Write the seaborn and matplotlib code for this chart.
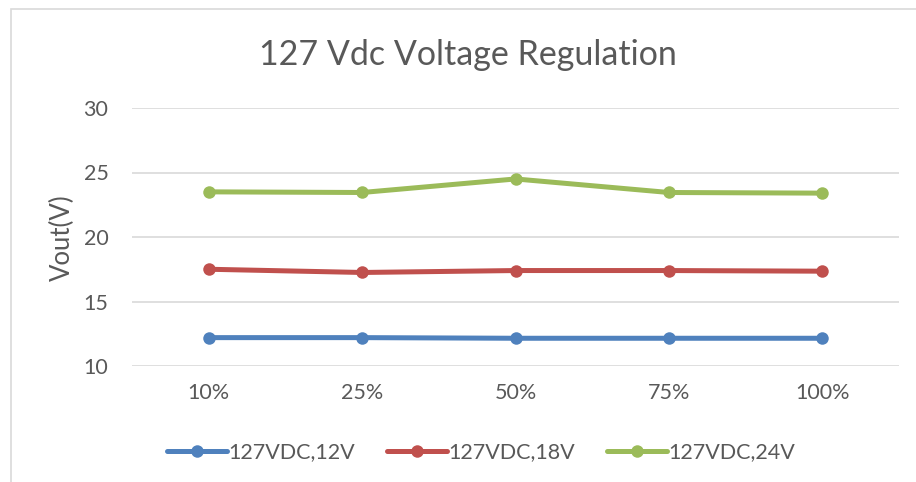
import matplotlib
matplotlib.use("Agg")
import matplotlib.pyplot as plt
from matplotlib.patches import Rectangle
import seaborn as sns
import pandas as pd

# region Data
loads = ["10%", "25%", "50%", "75%", "100%"]
vout_12v = [12.2, 12.2, 12.15, 12.15, 12.15]
vout_18v = [17.5, 17.25, 17.4, 17.4, 17.35]
vout_24v = [23.5, 23.45, 24.5, 23.45, 23.4]
series_names = ["127VDC,12V", "127VDC,18V", "127VDC,24V"]
series_colors = ["#4f81bd", "#c0504d", "#9bbb59"]
# endregion

df = pd.concat([
    pd.DataFrame({"load": loads, "vout": vals, "series": name})
    for name, vals in zip(series_names, [vout_12v, vout_18v, vout_24v])
])

sns.set_style("white")
plt.rcParams["font.family"] = ["Lato", "DejaVu Sans"]
text_color = "#595959"

fig = plt.figure(figsize=(9.16, 4.82), dpi=100)
ax = fig.add_axes([132 / 916, 1 - 366 / 482, (899 - 132) / 916, (366 - 108) / 482])

sns.lineplot(data=df, x="load", y="vout", hue="series", palette=series_colors,
             hue_order=series_names, sort=False, marker="o", markersize=9,
             markeredgewidth=0, linewidth=3.6, ax=ax)

ax.set_ylim(10, 30)
ax.set_yticks([10, 15, 20, 25, 30])
ax.set_xlim(-0.5, len(loads) - 0.5)
ax.grid(axis="y", color="#d9d9d9", linewidth=1.2)
ax.set_axisbelow(True)
for s in ax.spines.values():
    s.set_visible(False)
ax.tick_params(axis="both", length=0, labelsize=15.5, labelcolor=text_color)
ax.tick_params(axis="x", pad=12)
ax.tick_params(axis="y", pad=17)
ax.set_xlabel("")
ax.set_ylabel("")

fig.text(62 / 916, 1 - 238 / 482, "Vout(V)", rotation=90, ha="center", va="center",
         fontsize=18.5, color=text_color)
fig.text(0.511, 1 - 55 / 482, "127 Vdc Voltage Regulation", ha="center", va="center",
         fontsize=24.5, color=text_color)

handles, labels = ax.get_legend_handles_labels()
ax.legend(handles, labels, loc="center", bbox_to_anchor=(0.455, -0.335), ncol=3,
          frameon=False, fontsize=15.5, handlelength=2.8, handletextpad=0.05,
          columnspacing=1.5, labelcolor=text_color)

# outer chart border (Excel chart area)
fig.patches.append(Rectangle((11 / 916, -0.1), 2, 1.1 - 9 / 482, transform=fig.transFigure,
                             fill=False, edgecolor="#d9d9d9", linewidth=1.2))

fig.savefig("out.png", dpi=100)
plt.close(fig)
